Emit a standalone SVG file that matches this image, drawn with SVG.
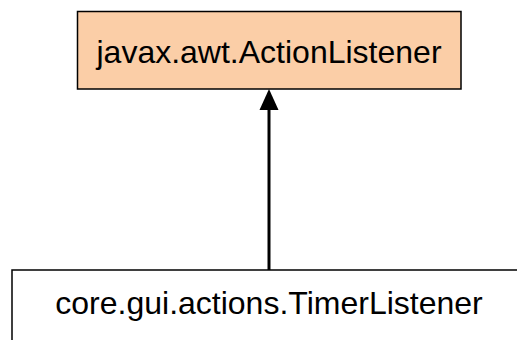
<svg xmlns="http://www.w3.org/2000/svg" width="517" height="340" viewBox="0 0 517 340">
  <style>
    .box { stroke: #000; stroke-width: 1.5; }
    .label { font-family: "Liberation Sans", Arial, sans-serif; font-size: 32px; fill: #000; text-anchor: middle; }
    .edge { stroke: #000; stroke-width: 3; fill: none; }
  </style>
  <rect width="517" height="340" fill="#fff"/>
  <g id="edges">
    <path class="edge" d="M269,270 L269,108"/>
    <path d="M259.5,110 L269,89 L278.5,110 Z" fill="#000"/>
  </g>
  <g id="node-actionlistener">
    <rect class="box" x="77.5" y="11.5" width="383.5" height="77.5" fill="#FBCEA7"/>
    <text class="label" x="269" y="63">javax.awt.ActionListener</text>
  </g>
  <g id="node-timerlistener">
    <rect class="box" x="12" y="270" width="520" height="90" fill="#fff"/>
    <text class="label" x="269" y="314">core.gui.actions.TimerListener</text>
  </g>
</svg>
